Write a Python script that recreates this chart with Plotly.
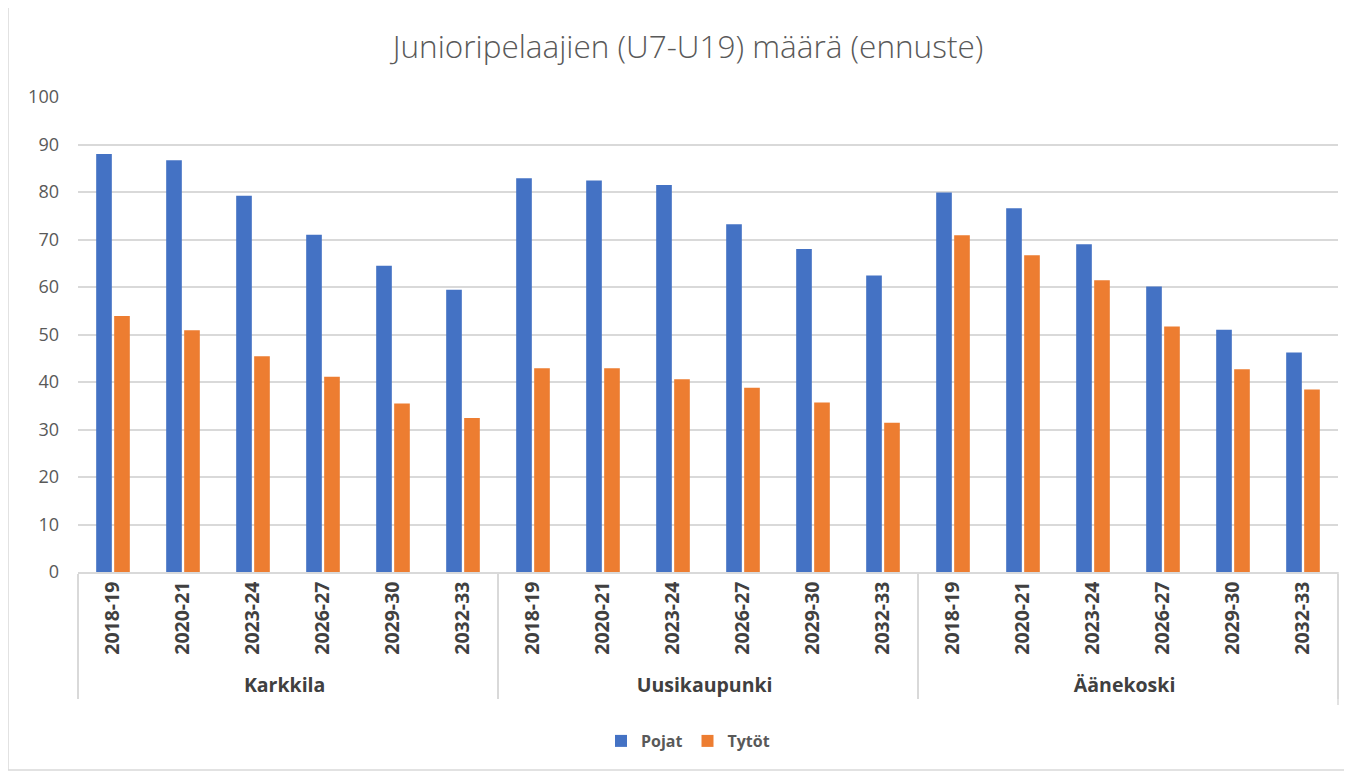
import plotly.graph_objects as go

kunnat = ["Karkkila", "Uusikaupunki", "Äänekoski"]
kaudet = ["2018-19", "2020-21", "2023-24", "2026-27", "2029-30", "2032-33"]

pojat = [88.0, 86.7, 79.2, 71.0, 64.5, 59.4,
         82.9, 82.4, 81.5, 73.2, 68.0, 62.4,
         79.9, 76.6, 69.0, 60.1, 51.0, 46.2]
tytot = [53.9, 50.9, 45.4, 41.1, 35.5, 32.4,
         42.9, 42.9, 40.6, 38.8, 35.7, 31.4,
         70.9, 66.7, 61.4, 51.7, 42.7, 38.4]

outer = [k for k in kunnat for _ in kaudet]
inner = [s for _ in kunnat for s in kaudet]

FONT = "Open Sans, Noto Sans, sans-serif"
GRAY = "#595959"

# page offset (body margin) = 8px
L, T, R, B = 70, 89, 22, 208
PW = 1352 - L - R
PH = 772 - T - B

fig = go.Figure()
fig.add_trace(go.Bar(name="Pojat", x=[outer, inner], y=pojat, marker_color="#4472C4",
                     marker_line=dict(width=0)))
fig.add_trace(go.Bar(name="Tytöt", x=[outer, inner], y=tytot, marker_color="#ED7D31",
                     marker_line=dict(width=0)))

fig.update_layout(
    width=1352, height=772,
    margin=dict(l=L, r=R, t=T, b=B, autoexpand=False),
    paper_bgcolor="white", plot_bgcolor="white",
    barmode="group", bargap=0.486, bargroupgap=0.13,
    font=dict(family=FONT, color=GRAY),
    title=dict(text="Junioripelaajien (U7-U19) määrä (ennuste)", x=(688 - 8) / 1352,
               xanchor="center", y=1 - (47 - 8) / 772, yanchor="middle",
               font=dict(size=31.5, color=GRAY, family=FONT, weight=300)),
    showlegend=True,
    legend=dict(orientation="h", x=(688 - 8 - L) / PW, xanchor="center",
                y=-(735 - 8 - T - PH - 11) / PH, yanchor="top",
                font=dict(size=16, color=GRAY, family=FONT, weight="bold"), itemwidth=30),
)
fig.update_yaxes(range=[0, 100], dtick=10, showgrid=True, gridcolor="#d9d9d9", gridwidth=1.5,
                 zeroline=False, showline=False, ticks="",
                 tickfont=dict(size=18, color=GRAY, family=FONT), ticklabelstandoff=18)
fig.update_xaxes(type="multicategory", tickangle=-90, showline=True, linecolor="#d9d9d9",
                 linewidth=1.5, showdividers=True, dividercolor="#d9d9d9", dividerwidth=1.5,
                 tickfont=dict(size=19.5, color="#404040", family=FONT, weight="bold"))

# right-end divider
fig.add_shape(type="line", xref="paper", yref="paper", x0=1, x1=1,
              y0=0, y1=-(705 - 572) / PH, line=dict(color="#d9d9d9", width=1.5))
# chart border
fig.add_shape(type="rect", xref="paper", yref="paper",
              x0=(8 - 8 - L) / PW, x1=(1345 - 8 - L) / PW,
              y0=1 - (770 - 8 - T) / PH, y1=1 + (T - (3 - 8)) / PH,
              line=dict(color="#d9d9d9", width=1.5), fillcolor="rgba(0,0,0,0)")

fig.write_html("out.html")
